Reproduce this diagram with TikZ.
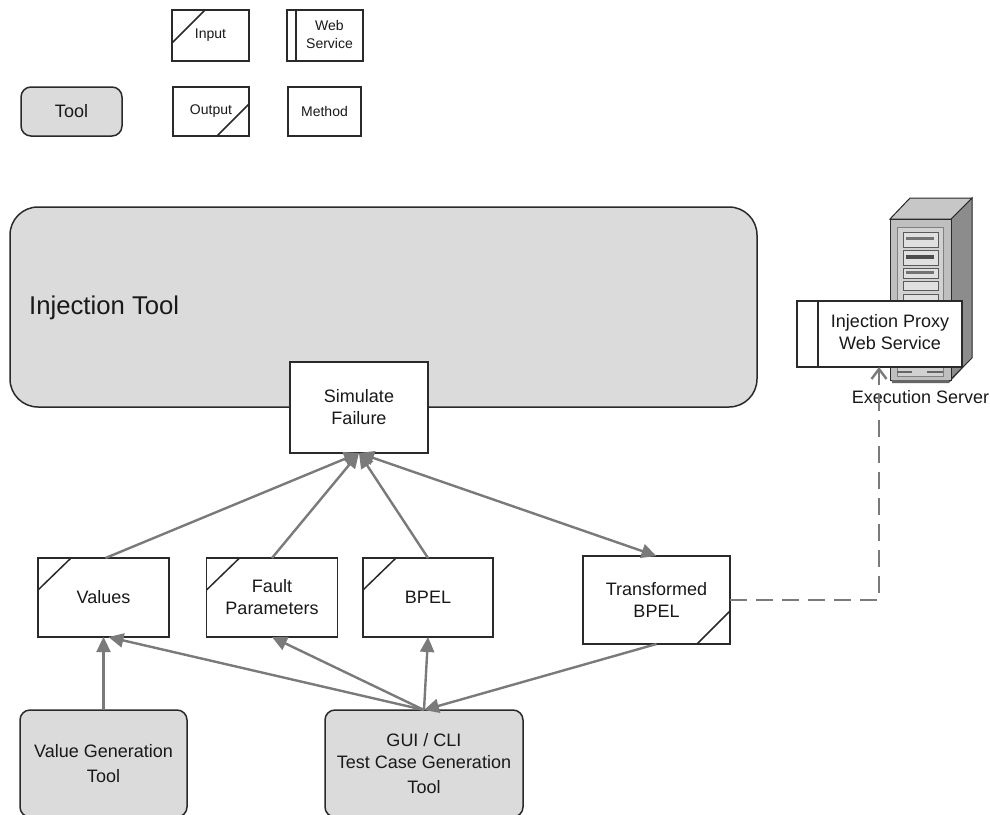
\documentclass[tikz,border=0pt]{standalone}
\usepackage{fontspec}
\setmainfont{Liberation Sans}
\usetikzlibrary{arrows.meta,calc}
\definecolor{toolfill}{HTML}{DBDBDB}
\definecolor{edge}{HTML}{2A2A2A}
\definecolor{conn}{HTML}{7A7A7A}
\newcommand{\bigtxt}{\fontsize{18}{22}\selectfont}
\newcommand{\smalltxt}{\fontsize{14}{18}\selectfont}
\tikzset{
  box/.style={draw=edge,line width=1.5pt,fill=white,outer sep=0pt,inner sep=0pt,align=center,text=black!90,font=\bigtxt},
  legend/.style={box,font=\smalltxt},
  tool/.style={box,fill=toolfill,rounded corners=10pt},
  slash/.style={draw=edge,line width=1.5pt},
  conn/.style={draw=conn,line width=2.4pt,-{Triangle[length=15pt,width=14pt]}},
}
\begin{document}
\begin{tikzpicture}[x=1pt,y=-1pt]
\useasboundingbox (0,0) rectangle (990,814);
\clip (0,0) rectangle (990,814);
% legend
\node[legend,minimum width=77pt,minimum height=51pt] (lin) at (210.5,35.5) {\raisebox{-1.5pt}{Input}};
\draw[slash] ($(lin.north west)+(0,33)$) -- ($(lin.north west)+(33,0)$);
\node[legend,minimum width=76pt,minimum height=51pt] (lws) at (325,35.5) {\hspace*{9pt}\begin{tabular}{@{}c@{}}Web\\Service\end{tabular}};
\draw[slash] ($(lws.north west)+(9,0)$) -- ($(lws.south west)+(9,0)$);
\node[tool,minimum width=101pt,minimum height=49pt] (ltool) at (71.5,111.5) {Tool};
\node[legend,minimum width=76pt,minimum height=49pt] (lout) at (211,111.5) {\raisebox{-1pt}{Output}};
\draw[slash] ($(lout.south east)+(-32,0)$) -- ($(lout.south east)+(0,-32)$);
\node[legend,minimum width=73pt,minimum height=49pt] (lm) at (324.5,111.5) {Method};
% injection tool
\node[box,fill=toolfill,rounded corners=28pt,minimum width=747pt,minimum height=200pt] (inj) at (383.5,307) {};
\node[font=\fontsize{25.7}{30}\selectfont,text=black!90,anchor=west,inner sep=0pt] (injt) at (29,308) {Injection Tool};
% server
\fill[black!65] (890,219) -- (910,198) -- (972,198) -- (972,358) -- (949,383) -- (892,383) -- cycle;
\filldraw[draw=edge,line width=1pt,fill=black!45] (951,219) -- (972,198) -- (972,358) -- (950,380) -- cycle;
\filldraw[draw=edge,line width=1pt,fill=black!22] (890,219) -- (910,198) -- (972,198) -- (951,219) -- cycle;
\filldraw[draw=edge,line width=1pt,fill=black!25] (890,219) rectangle (951,380);
\fill[black!60] (892,380) rectangle (949,383);
\filldraw[draw=black!50,line width=.8pt,fill=black!18] (897,227) rectangle (943,376);
\foreach \ya/\yb in {232/247,250/265,268/278,281/290,294/305}{
  \filldraw[draw=black!65,line width=.8pt,fill=black!12] (903,\ya) rectangle (938,\yb);
}
\fill[black!55] (906,237) rectangle (934,240);
\fill[black!70] (906,255) rectangle (934,259);
\fill[black!55] (906,271) rectangle (934,274);
\fill[black!60] (897,371) rectangle (912,373);
\fill[black!60] (927,371) rectangle (943,373);
% proxy
\node[box,minimum width=165pt,minimum height=66pt] (proxy) at (879.5,334) {\hspace*{21pt}\begin{tabular}{@{}c@{}}Injection Proxy\\Web Service\end{tabular}};
\draw[slash] ($(proxy.north west)+(21,0)$) -- ($(proxy.south west)+(21,0)$);
\node[font=\bigtxt,text=black!90,inner sep=0pt] (exec) at (920.5,397) {Execution Server};
% nodes
\node[box,minimum width=138pt,minimum height=91pt] (sim) at (359,407.5) {Simulate\\Failure};
\node[box,minimum width=131pt,minimum height=79pt] (val) at (103.5,597.5) {Values};
\node[box,minimum width=131pt,minimum height=79pt] (fault) at (272,597.5) {Fault\\Parameters};
\node[box,minimum width=130pt,minimum height=79pt] (bpel) at (428,597.5) {BPEL};
\node[box,minimum width=147pt,minimum height=88pt] (trans) at (656.5,600) {Transformed\\BPEL};
\node[tool,minimum width=167pt,minimum height=107pt] (vgen) at (103.5,763.5) {Value Generation\\[3pt]Tool};
\node[tool,minimum width=198pt,minimum height=107pt] (gui) at (424,763.5) {GUI / CLI\\Test Case Generation\\[3pt]Tool};
\foreach \n in {val,fault,bpel}{
  \draw[slash] ($(\n.north west)+(0,32)$) -- ($(\n.north west)+(33,0)$);
}
\draw[slash] ($(trans.south east)+(-33,0)$) -- ($(trans.south east)+(0,-33)$);
% connectors
\draw[conn] (val.north) ++(2,0) -- (sim.south);
\draw[conn] (fault.north) -- (sim.south);
\draw[conn] (bpel.north) -- (sim.south);
\draw[conn,{Triangle[length=15pt,width=14pt]}-{Triangle[length=15pt,width=14pt]}] (sim.south) -- (trans.north);
\draw[conn] (vgen.north) -- (val.south);
\draw[conn] (gui.north) -- ($(val.south)+(5,0)$);
\draw[conn] (gui.north) -- (fault.south);
\draw[conn] (gui.north) -- (bpel.south);
\draw[conn] (trans.south) -- (gui.north);
\coordinate (bend) at (879,600);
\draw[draw=conn,line width=2.4pt,dash pattern=on 17pt off 9pt,-{Straight Barb[length=10pt,width=15pt]}] (trans.east) -- (bend) -- (bend |- proxy.south);
\end{tikzpicture}
\end{document}
